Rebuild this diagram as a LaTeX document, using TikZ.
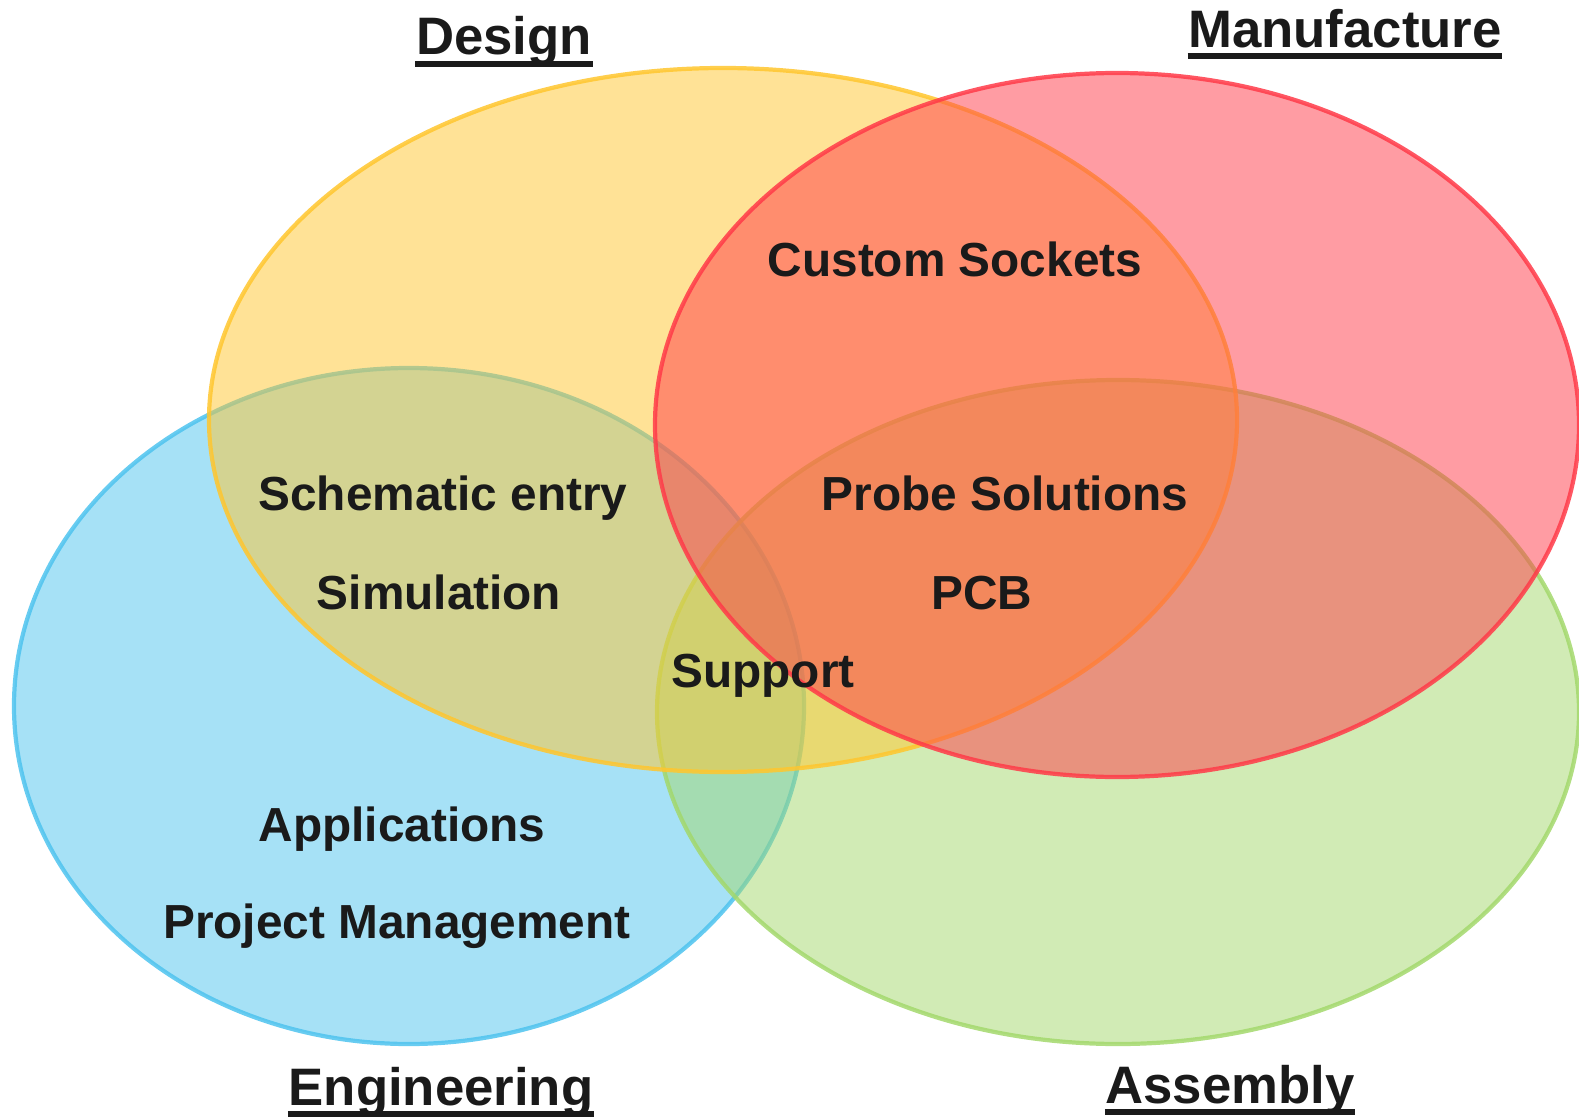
\documentclass[tikz,border=0pt]{standalone}
\usepackage{fontspec}
\setmainfont{Liberation Sans}
\usepackage{xcolor}
\usetikzlibrary{calc}

\definecolor{designcol}{HTML}{FFC62E}
\definecolor{manufcol}{HTML}{FF3A48}
\definecolor{engcol}{HTML}{4EC3EE}
\definecolor{asmcol}{HTML}{A3D86C}
\definecolor{txtcol}{HTML}{1A1A1A}

\tikzset{
  set/.style={line width=1.2pt, fill opacity=0.5, draw opacity=0.85},
  item/.style={anchor=base, inner sep=0pt, text=txtcol, font=\fontsize{13.6}{16}\selectfont\bfseries},
  title/.style={anchor=base, inner sep=0pt, text=txtcol, font=\fontsize{15}{18}\selectfont\bfseries}
}

\begin{document}
\begin{tikzpicture}
  \useasboundingbox (0,0) rectangle (15.79,11.16);

  % Draw the four sets
  \draw[set, draw=engcol, fill=engcol] (4.09,4.10) ellipse [x radius=3.95cm, y radius=3.38cm];
  \draw[set, draw=asmcol, fill=asmcol] (11.18,4.04) ellipse [x radius=4.61cm, y radius=3.32cm];
  \draw[set, draw=designcol, fill=designcol] (7.23,6.96) ellipse [x radius=5.14cm, y radius=3.52cm];
  \draw[set, draw=manufcol, fill=manufcol] (11.17,6.91) ellipse [x radius=4.62cm, y radius=3.52cm];

  % Label the sets
  \node[title] (design) at (5.04,10.61) {Design};
  \node[title] (manufacture) at (13.45,10.69) {Manufacture};
  \node[title] (engineering) at (4.41,0.11) {Engineering};
  \node[title] (assembly) at (12.30,0.13) {Assembly};

  % Underline the labels
  \foreach \t in {design, manufacture, engineering, assembly}
    \draw[txtcol, line width=1.5pt] ([yshift=-0.09cm]\t.base west) -- ([yshift=-0.09cm]\t.base east);

  % Items in the regions
  \node[item] (sockets) at (9.55,8.40) {Custom Sockets};
  \node[item] (schematic) at (4.43,6.06) {Schematic entry};
  \node[item] (probe) at (10.05,6.06) {Probe Solutions};
  \node[item] (simulation) at (4.39,5.07) {Simulation};
  \node[item] (pcb) at (9.82,5.07) {PCB};
  \node[item] (support) at (7.63,4.29) {Support};
  \node[item] (applications) at (4.02,2.75) {Applications};
  \node[item] (projects) at (3.97,1.78) {Project Management};

\end{tikzpicture}
\end{document}
